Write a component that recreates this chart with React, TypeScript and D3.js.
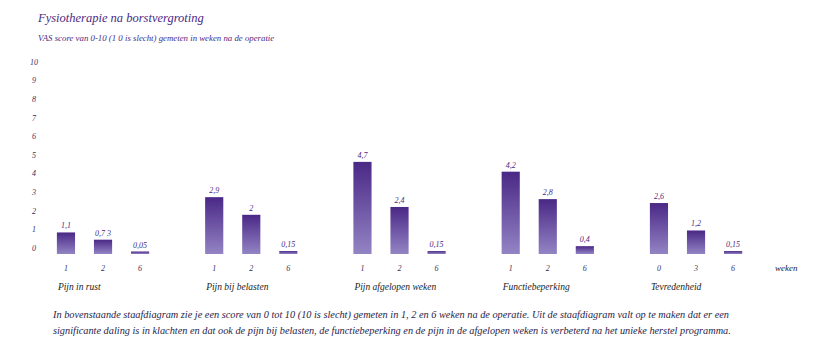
import React from "react";
import * as d3 from "d3";

const categories = ["Pijn in rust", "Pijn bij belasten", "Pijn afgelopen weken", "Functiebeperking", "Tevredenheid"];
const weekLabels = [
  ["1", "2", "6"],
  ["1", "2", "6"],
  ["1", "2", "6"],
  ["1", "2", "6"],
  ["0", "3", "6"],
];
const values = [
  [1.1, 0.73, 0.05],
  [2.9, 2, 0.15],
  [4.7, 2.4, 0.15],
  [4.2, 2.8, 0.4],
  [2.6, 1.2, 0.15],
];
const valueLabels = [
  ["1,1", "0,7 3", "0,05"],
  ["2,9", "2", "0,15"],
  ["4,7", "2,4", "0,15"],
  ["4,2", "2,8", "0,4"],
  ["2,6", "1,2", "0,15"],
];
const yTicks = [0, 1, 2, 3, 4, 5, 6, 7, 8, 9, 10];

const title = "Fysiotherapie na borstvergroting";
const subtitle = "VAS score van 0-10 (1 0 is slecht) gemeten in weken na de operatie";
const unitLabel = "weken";
const footnote = [
  "In bovenstaande staafdiagram zie je een score van 0 tot 10 (10 is slecht) gemeten in 1, 2 en 6 weken na de operatie. Uit de staafdiagram valt op te maken dat er een",
  "significante daling is in klachten en dat ook de pijn bij belasten, de functiebeperking en de pijn in de afgelopen weken is verbeterd na het unieke herstel programma.",
];

const W = 838;
const H = 344;
const FONT = "'Liberation Serif', 'DejaVu Serif', serif";
const PURPLE = "#4b2a85";

export default function App() {
  const x0 = d3.scaleBand<string>().domain(categories).range([28.9, 28.9 + 5 * 148.25]).padding(0);
  const x1 = d3.scaleBand<number>().domain([0, 1, 2]).range([0, x0.bandwidth() * 0.75]).paddingInner(0.51).paddingOuter(0.255);
  const innerOffset = (x0.bandwidth() - x1.range()[1]) / 2;
  const yBar = d3.scaleLinear().domain([0, 10]).range([254, 58]);
  const yTick = d3.scaleLinear().domain([0, 10]).range([248, 62]);

  return (
    <svg width={W} height={H} style={{ position: "absolute", left: 0, top: 0, background: "#fff" }}>
      <defs>
        <linearGradient id="barGrad" x1="0" y1="0" x2="0" y2="1">
          <stop offset="0%" stopColor="#4a2886" />
          <stop offset="100%" stopColor="#9384c4" />
        </linearGradient>
      </defs>
      <text x={38} y={22} fontFamily={FONT} fontStyle="italic" fontSize={12.5} fill={PURPLE}>{title}</text>
      <text x={38} y={41} fontFamily={FONT} fontStyle="italic" fontSize={8.8} fill={PURPLE}>{subtitle}</text>

      {yTicks.map((t) => (
        <text key={t} x={34} y={yTick(t)} dy="0.35em" textAnchor="middle" fontFamily={FONT} fontStyle="italic" fontSize={8} fill="#3a3060">{t}</text>
      ))}

      {categories.map((c, gi) => {
        const gx = (x0(c) as number) + innerOffset;
        return (
          <g key={c}>
            {values[gi].map((v, i) => {
              const bx = gx + (x1(i) as number);
              const top = Math.min(yBar(v), yBar(0) - 2.5);
              return (
                <g key={i}>
                  <rect x={bx} y={top} width={x1.bandwidth()} height={yBar(0) - top} fill="url(#barGrad)" />
                  <text x={bx + x1.bandwidth() / 2} y={top - 4} textAnchor="middle" fontFamily={FONT} fontStyle="italic" fontSize={8} fill={PURPLE}>{valueLabels[gi][i]}</text>
                  <text x={bx + x1.bandwidth() / 2} y={268} dy="0.35em" textAnchor="middle" fontFamily={FONT} fontStyle="italic" fontSize={8} fill="#3a3060">{weekLabels[gi][i]}</text>
                </g>
              );
            })}
            <text x={gx + (x1(0) as number) + 1} y={287} dy="0.35em" fontFamily={FONT} fontStyle="italic" fontSize={9.5} fill="#222">{c}</text>
          </g>
        );
      })}
      <text x={775} y={268} dy="0.35em" fontFamily={FONT} fontStyle="italic" fontSize={9} fill="#222">{unitLabel}</text>

      {footnote.map((line, i) => (
        <text key={i} x={53} y={314 + i * 16} dy="0.35em" fontFamily={FONT} fontStyle="italic" fontSize={10.3} fill="#2a1d4a">{line}</text>
      ))}
    </svg>
  );
}
